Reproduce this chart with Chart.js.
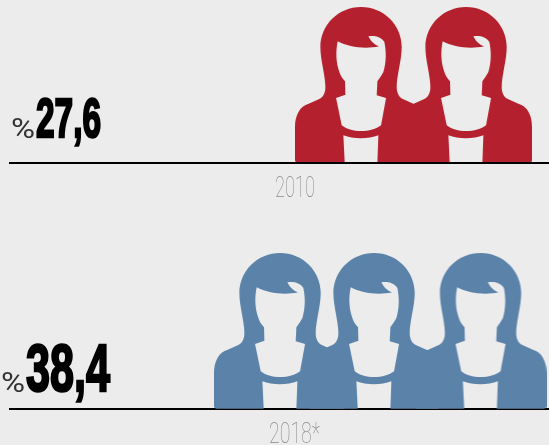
<!DOCTYPE html>
<html>
<head>
<meta charset="utf-8">
<title>Kadın oranı</title>
<script src="https://cdn.jsdelivr.net/npm/chart.js@4"></script>
<style>
    html, body { margin: 0; padding: 0; background: #ececec; overflow: hidden; }
    canvas { position: absolute; left: 0; display: block; }
</style>
</head>
<body>
<canvas id="row2010" width="549" height="205" style="top:0"></canvas>
<canvas id="row2018" width="549" height="240" style="top:205px"></canvas>
<script>
const years = ['2010', '2018*'];
const shares = ['27,6', '38,4'];
const unit = '%';

// where each figure stands on the x axis, in figure widths
const figures2010 = [3.343, 4.343];
const figures2018 = [2.572, 3.467, 4.481];

const FIGURE_OUTLINE = 'M198 0 C266 0 320 54 320 120 C320 160 305 205 305 240 C305 258 312 272 325 277 L355 290 ' +
    'C382 297 396 325 396 360 L396 460 Q396 467 389 467 L7 467 Q0 467 0 460 L0 360 C0 325 14 297 41 290 L71 277 ' +
    'C84 272 91 258 91 240 C91 205 76 160 76 120 C76 54 130 0 198 0 Z ' +
    'M128 103 C160 120 210 128 252 118 C235 112 226 100 220 88 C240 85 258 90 268 105 C274 135 274 165 265 195 ' +
    'C260 205 252 215 247 223 L245 265 L273 273 L258 355 C230 378 166 378 140 355 L123 273 L151 263 L150 223 ' +
    'C140 212 136 205 133 195 C122 165 122 130 128 103 Z ' +
    'M145 385 C175 397 220 397 250 385 L247 467 L149 467 Z';

function makeFigure(color) {
    const c = document.createElement('canvas');
    c.width = 132;
    c.height = 156;
    const ctx = c.getContext('2d');
    ctx.scale(1 / 3, 1 / 3);
    ctx.fillStyle = color;
    ctx.fill(new Path2D(FIGURE_OUTLINE), 'evenodd');
    return c;
}

function fitText(ctx, text, x, baseline, width, font, color, bold) {
    ctx.save();
    ctx.font = font;
    const scale = width / ctx.measureText(text).width;
    ctx.translate(x, baseline);
    ctx.scale(scale, 1);
    ctx.textAlign = 'left';
    ctx.textBaseline = 'alphabetic';
    ctx.fillStyle = color;
    ctx.fillText(text, 0, 0);
    if (bold) {
        ctx.strokeStyle = color;
        ctx.lineWidth = bold;
        ctx.strokeText(text, 0, 0);
    }
    ctx.restore();
}

function createRow(id, positions, color, o) {
    const labels = {
        id: 'labels',
        afterDraw(chart) {
            const ctx = chart.ctx;
            fitText(ctx, unit, o.unitX, o.unitY, 24, '400 27px Roboto', '#333');
            fitText(ctx, o.share, o.shareX, o.shareY, o.shareW, `bold ${o.shareSize}px "Liberation Sans"`, '#000', 2.5);
            fitText(ctx, o.year, o.yearX, o.yearY, o.yearW, '100 30px Roboto', '#8a8a8a');
        }
    };

    new Chart(document.getElementById(id), {
        type: 'scatter',
        data: {
            datasets: [{
                data: positions.map(x => ({ x: x, y: 0.5 })),
                pointStyle: makeFigure(color),
                clip: false
            }]
        },
        options: {
            responsive: false,
            animation: false,
            layout: { autoPadding: false, padding: { left: 10, right: 0, top: o.top, bottom: o.bottom } },
            plugins: { legend: { display: false }, tooltip: { enabled: false } },
            scales: {
                x: {
                    min: 0,
                    max: 539 / 105,
                    grid: { display: false, drawTicks: false },
                    ticks: { display: false },
                    border: { color: '#000', width: 2, z: o.lineZ }
                },
                y: { display: false, min: 0, max: 1 }
            }
        },
        plugins: [labels]
    });
}

createRow('row2010', figures2010, '#b5202e', {
    top: 7, bottom: 42, lineZ: 1,
    share: shares[0], shareX: 36, shareY: 137, shareW: 65, shareSize: 56,
    unitX: 11, unitY: 138,
    year: years[0], yearX: 275, yearY: 197, yearW: 40
});
createRow('row2018', figures2018, '#5b83a9', {
    top: 48, bottom: 36, lineZ: 0,
    share: shares[1], shareX: 26, shareY: 186, shareW: 84, shareSize: 67,
    unitX: 1, unitY: 187,
    year: years[1], yearX: 269, yearY: 238, yearW: 51
});
</script>
</body>
</html>
